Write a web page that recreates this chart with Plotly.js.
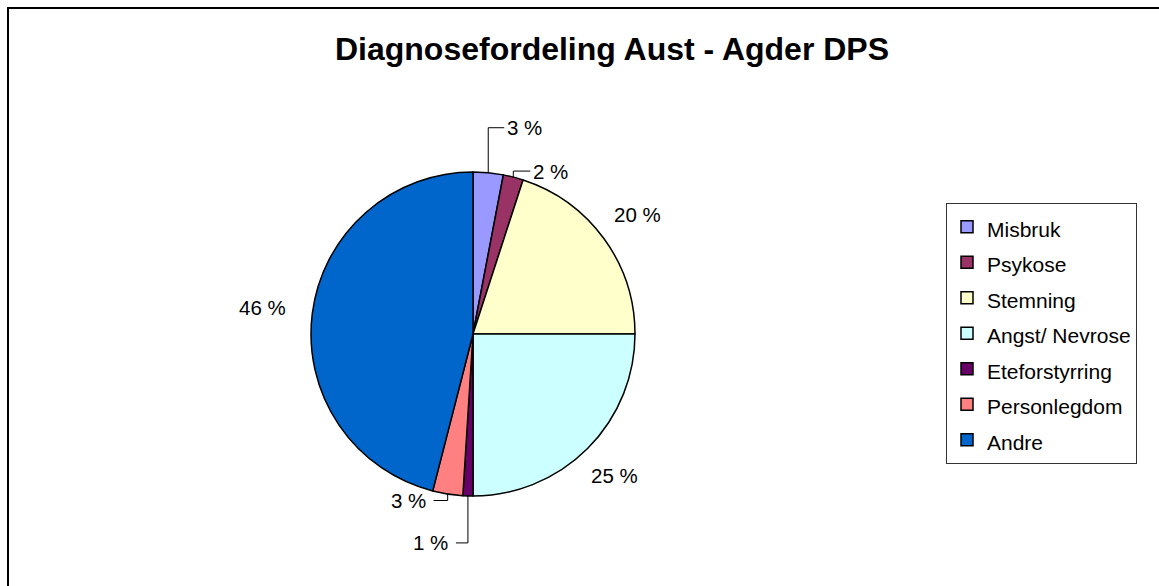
<!DOCTYPE html>
<html><head><meta charset="utf-8">
<script src="https://cdn.plot.ly/plotly-3.0.1.min.js"></script>
<style>html,body{margin:0;padding:0;background:#fff}#chart{width:1159px;height:586px}</style>
</head><body><div id="chart"></div>
<script>
// ---- data ----
const categories = ['Misbruk','Psykose','Stemning','Angst/ Nevrose','Eteforstyrring','Personlegdom','Andre'];
const shares = [3, 2, 20, 25, 1, 3, 46];
const sliceColors = ['#9999FF','#993366','#FFFFCC','#CCFFFF','#660066','#FF8080','#0066CC'];
const chartTitle = 'Diagnosefordeling Aust - Agder DPS';

// ---- layout / style ----
const W = 1159, H = 586;
const CX = 473, CY = 334, R = 162;
const FONT = 'Arial, "Liberation Sans", sans-serif';
const LABEL_FS = 20.5;
const LEGEND_FS = 21;
const labelStyle = [
  {leader: true, dy: -45, dx: 16, pad: 1},
  {leader: true, dy: -6, dx: 17, pad: 1},
  {gap: 18.5},
  {gap: 16},
  {leader: true, dy: 47, dx: -12, pad: 6},
  {leader: true, dy: 6.5, dx: -14, pad: 6},
  {gap: 26}
];
const px = x => x / W, py = y => 1 - y / H;

const total = shares.reduce((a, b) => a + b, 0);
const annotations = [], shapes = [];
let cum = 0;
shares.forEach((v, i) => {
  const mid = (cum + v / 2) / total * 2 * Math.PI; cum += v;
  const sx = Math.sin(mid), sy = -Math.cos(mid);
  const rimX = CX + R * sx, rimY = CY + R * sy;
  const txt = Math.round(v / total * 100) + ' %';
  const st = labelStyle[i];
  const base = {xref: 'paper', yref: 'paper', text: txt, showarrow: false,
                font: {family: FONT, size: LABEL_FS, color: '#000'}};
  if (st.leader) {
    const ly = rimY + st.dy, lx = rimX + st.dx;
    shapes.push({type: 'path', xref: 'paper', yref: 'paper',
      path: `M${px(rimX)},${py(rimY)} L${px(rimX)},${py(ly)} L${px(lx)},${py(ly)}`,
      line: {color: '#000', width: 1}});
    const right = st.dx > 0;
    annotations.push(Object.assign(base, {
      x: px(lx + (right ? st.pad : -st.pad)), y: py(ly),
      xanchor: right ? 'left' : 'right', yanchor: 'middle'}));
  } else {
    const digits = txt.length - 2;
    const halfW = LABEL_FS * (0.556 * digits + 0.278 + 0.889) / 2;
    const halfH = LABEL_FS * 0.36;
    const dist = R + st.gap + Math.abs(sx) * halfW + Math.abs(sy) * halfH;
    annotations.push(Object.assign(base, {
      x: px(CX + dist * sx), y: py(CY + dist * sy),
      xanchor: 'center', yanchor: 'middle'}));
  }
});

// outer chart frame (left and top edges visible)
shapes.push({type: 'path', xref: 'paper', yref: 'paper',
  path: `M${px(8)},${py(600)} L${px(8)},${py(8)} L${px(1170)},${py(8)}`,
  line: {color: '#000', width: 2}});

const trace = {
  type: 'pie',
  labels: categories.map(c => `<span style="font-size:${LEGEND_FS}px">${c}</span>`),
  values: shares,
  sort: false,
  direction: 'clockwise',
  rotation: 0,
  marker: {colors: sliceColors, line: {color: '#000', width: 1.5}},
  textinfo: 'none',
  hoverinfo: 'skip',
  domain: {x: [px(CX - R), px(CX + R)], y: [py(CY + R), py(CY - R)]}
};

const layout = {
  width: W, height: H,
  margin: {l: 0, r: 0, t: 0, b: 0},
  paper_bgcolor: '#fff', plot_bgcolor: '#fff',
  title: {text: '<b>' + chartTitle + '</b>', font: {family: FONT, size: 32, color: '#000'},
          xref: 'paper', yref: 'paper', x: 612 / W, xanchor: 'center', y: py(48.5), yanchor: 'middle'},
  showlegend: true,
  legend: {x: px(946), y: py(203), xanchor: 'left', yanchor: 'top',
           bordercolor: '#333', borderwidth: 1, bgcolor: '#fff',
           font: {family: FONT, size: 25, color: '#000'}},
  annotations: annotations,
  shapes: shapes
};

Plotly.newPlot('chart', [trace], layout, {displayModeBar: false, staticPlot: true});
</script>
</body></html>
